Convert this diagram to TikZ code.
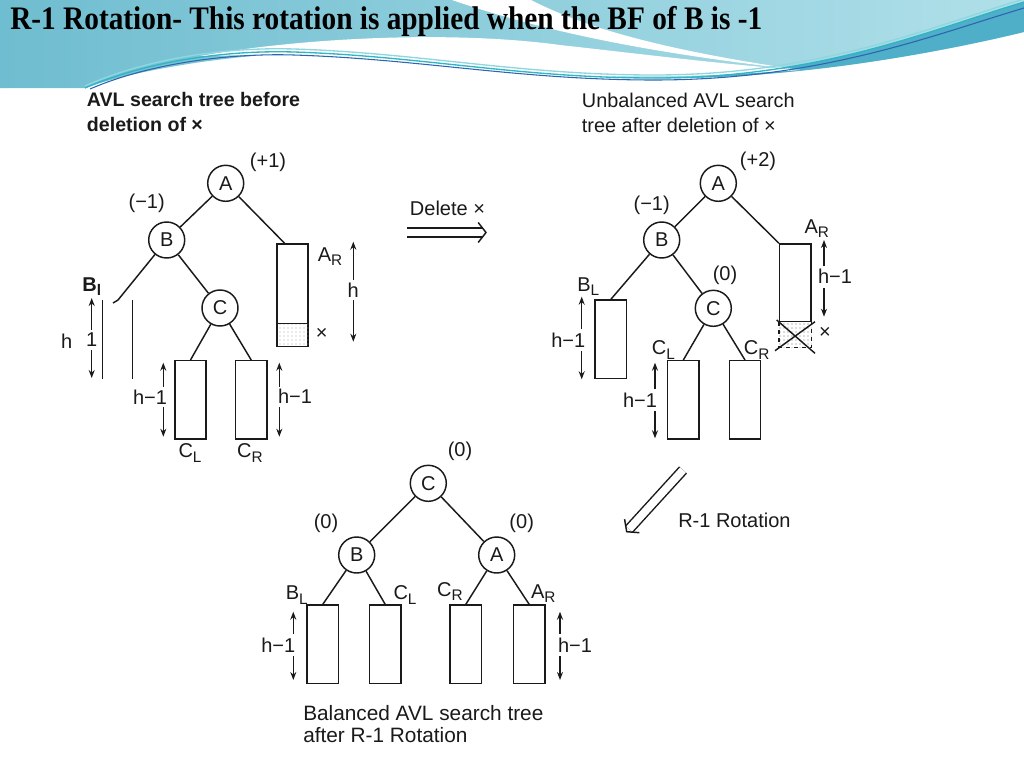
\documentclass[tikz,border=0pt]{standalone}
\usepackage{fontspec}
\setmainfont{Liberation Sans}
\newfontfamily\titlefont{Liberation Serif}
\usetikzlibrary{arrows.meta,calc,patterns}
\definecolor{hdA}{HTML}{6FBDD0}
\definecolor{hdB}{HTML}{B0E0E9}
\definecolor{hdD}{HTML}{4FAEC8}
\definecolor{wvA}{HTML}{2FB5C4}
\definecolor{wvB}{HTML}{2B66B0}
\definecolor{wvC}{HTML}{8FD6E0}
\definecolor{ink}{HTML}{1A1A1A}
\newcommand\mysub[1]{\raisebox{-0.4ex}{\fontsize{11.5}{11.5}\selectfont #1}}
\begin{document}
\begin{tikzpicture}[x=0.75pt,y=-0.75pt,
 txt/.style={font=\fontsize{15}{17}\selectfont, inner sep=0pt, text=ink},
 nd/.style={circle, draw=ink, line width=1.1pt, minimum size=27pt, inner sep=0pt, font=\fontsize{15}{17}\selectfont, text=ink},
 tbox/.style={draw=ink, line width=1.1pt, minimum width=23.5pt, minimum height=58.7pt, inner sep=0pt},
 edge/.style={draw=ink, line width=1.1pt},
 dim/.style={draw=ink, line width=1pt, -{Stealth[length=6pt,width=4.5pt]}},
 dblline/.style={draw=ink, line width=1.1pt, double, double distance=5.8pt, shorten >=2.6pt},
]
\useasboundingbox (0,0) rectangle (1024,768);
\fill[white] (0,0) rectangle (1024,768);
% ---------- header ----------
\shade[left color=hdA, right color=hdB]
 (0,0) -- (1024,0) -- (1024,32) .. controls (950,50) and (800,80) .. (654,78)
 .. controls (500,75) and (400,45) .. (294,53) .. controls (200,58) and (120,75) .. (85,88) -- (0,88) -- cycle;
\fill[hdD] (654,78) .. controls (820,78) and (930,30) .. (1024,2) -- (1024,32)
 .. controls (950,50) and (800,80) .. (654,78) -- cycle;
\fill[white] (200,56) .. controls (300,38) and (450,30) .. (560,45)
 .. controls (650,55) and (720,64) .. (800,70)
 .. controls (700,77) and (654,77) .. (600,76) .. controls (450,70) and (350,52) .. (200,56) -- cycle;
\fill[white] (452,0) -- (531,0) .. controls (580,25) and (650,48) .. (800,70)
 .. controls (640,52) and (540,30) .. (452,0) -- cycle;
\draw[wvC, line width=1pt] (85,86) .. controls (150,57) and (230,47) .. (294,49) .. controls (420,53) and (520,75) .. (654,75) .. controls (820,75) and (930,27) .. (1024,-1);
\draw[wvA, line width=1pt] (85,88) .. controls (150,60) and (230,50) .. (294,52) .. controls (420,56) and (520,78) .. (654,78) .. controls (820,78) and (930,30) .. (1024,2);
\draw[wvB, line width=0.8pt] (90,89) .. controls (150,63) and (230,53) .. (294,55) .. controls (420,59) and (520,80) .. (654,80) .. controls (820,80) and (930,36) .. (1024,8);
\node[anchor=base west, inner sep=0pt, text=black] (title) at (10,29.5)
 {\scalebox{1}[1.12]{\resizebox{564pt}{!}{\titlefont\bfseries R-1 Rotation- This rotation is applied when the BF of B is -1}}};

% ---------- captions ----------
\node[txt, anchor=west, align=left, font=\fontsize{14.7}{18.75}\selectfont\bfseries] (cap1) at (86.7,111.5)
 {AVL search tree before\\deletion of ×};
\node[txt, anchor=west, align=left, font=\fontsize{14.9}{18.75}\selectfont] (cap2) at (581.7,112.5)
 {Unbalanced AVL search\\tree after deletion of ×};
\node[txt, anchor=west, align=left, font=\fontsize{15.6}{16.5}\selectfont] (cap3) at (303,724)
 {Balanced AVL search tree\\after R-1 Rotation};

% ---------- tree 1 ----------
\node[nd] (A1) at (225.7,183.3) {A};
\node[nd] (B1) at (166.7,240) {B};
\node[nd] (C1) at (220,308) {C};
\node[tbox] (cl1) at (190.5,399.85) {};
\node[tbox] (cr1) at (251.2,399.85) {};
\node[tbox, minimum height=77pt] (ar1) at (292.5,295.35) {};
\fill[pattern=dots, pattern color=black!35] ($(ar1.south west)+(0.8,-23.5)$) rectangle ($(ar1.south east)+(-0.8,-0.8)$);
\draw[edge] ($(ar1.south west)+(0,-24)$) -- ($(ar1.south east)+(0,-24)$);
\coordinate (bl1) at (118,300);
\draw[edge] (A1) -- (B1);
\draw[edge] (A1) -- ($(ar1.north west)!.26!(ar1.north east)$);
\draw[edge] (B1) -- (bl1) -- (113,303);
\draw[edge] (B1) -- (C1);
\draw[edge] (C1) -- (cl1.north);
\draw[edge] (C1) -- (cr1.north);
\draw[edge] (102.7,300) -- (102.7,379);
\draw[edge] (132.7,300) -- (132.7,379);
\node[txt] (p1) at (268,162) {(+1)};
\node[txt] (m1) at (146.7,203) {(−1)};
\node[txt] (arl1) at (330,256.7) {A\mysub{R}};
\node[txt] (h1) at (353.3,290) {h};
\draw[dim] (353.3,280) -- (353.3,241.7);
\draw[dim] (353.3,300) -- (353.3,341.7);
\node[txt] (x1) at (321.7,334) {×};
\node[txt, font=\fontsize{15}{17}\selectfont\bfseries] (bll1) at (91.7,286.7) {B\mysub{l}};
\node[txt] (hh1) at (66.7,341.7) {h};
\node[txt] (one1) at (91.7,340) {1};
\draw[dim] (91.7,330) -- (91.7,298);
\draw[dim] (91.7,350) -- (91.7,378);
\node[txt] (hl1) at (150,397) {h−1};
\draw[dim] (163.3,386.7) -- (163.3,362.7);
\draw[dim] (163.3,407) -- (163.3,436.7);
\node[txt] (hr1) at (295,396.7) {h−1};
\draw[dim] (279.3,386.7) -- (279.3,362.7);
\draw[dim] (279.3,407) -- (279.3,436.7);
\node[txt] (cll1) at (190,453) {C\mysub{L}};
\node[txt] (crl1) at (250,453) {C\mysub{R}};

% ---------- delete arrow ----------
\node[txt] (del) at (447.5,208) {Delete ×};
\coordinate (d1) at (407,232.5);
\coordinate (d2) at (486,232.5);
\draw[dblline] (d1) -- (d2);
\draw[edge, line join=miter] ($(d2)!9.5pt!-52:(d1)$) -- (d2) -- ($(d2)!9.5pt!52:(d1)$);

% ---------- tree 2 ----------
\node[nd] (A2) at (718.3,183.3) {A};
\node[nd] (B2) at (661.7,240) {B};
\node[nd] (C2) at (713.3,308.3) {C};
\node[tbox] (bl2) at (610.85,339.15) {};
\node[tbox] (cl2) at (683.35,399.85) {};
\node[tbox] (cr2) at (745,399.85) {};
\node[tbox, minimum height=58.3pt] (ar2) at (795.35,282.85) {};
\fill[pattern=dots, pattern color=black!55] (ar2.south west) rectangle ($(ar2.south east)+(0,25)$);
\draw[ink, line width=0.9pt, dashed] (ar2.south west) -- ($(ar2.south west)+(0,25)$) -- ($(ar2.south east)+(0,25)$) -- (ar2.south east);
\draw[edge] (776.7,320) -- (815,353.3);
\draw[edge] (815,321.7) -- (775,350.7);
\draw[edge] (A2) -- (B2);
\draw[edge] (A2) -- (ar2.north west);
\draw[edge] (B2) -- (bl2.north);
\draw[edge] (B2) -- (C2);
\draw[edge] (C2) -- (cl2.north);
\draw[edge] (C2) -- (cr2.north);
\node[txt] (p2) at (758,161.7) {(+2)};
\node[txt] (m2) at (651.7,205) {(−1)};
\node[txt] (z2) at (725,275) {(0)};
\node[txt] (arl2) at (816.7,228.3) {A\mysub{R}};
\node[txt] (ha2) at (835,276.7) {h−1};
\draw[dim] (824,266) -- (824,240);
\draw[dim] (824,288) -- (824,316.7);
\node[txt] (x2) at (825,333) {×};
\node[txt] (bll2) at (588.3,286.7) {B\mysub{L}};
\node[txt] (hb2) at (568.3,340) {h−1};
\draw[dim] (581.7,329) -- (581.7,296.7);
\draw[dim] (581.7,351) -- (581.7,379.3);
\node[txt] (cll2) at (663.3,350) {C\mysub{L}};
\node[txt] (crl2) at (756.7,350) {C\mysub{R}};
\node[txt] (hc2) at (640,400) {h−1};
\draw[dim] (655,389) -- (655,362.7);
\draw[dim] (655,411) -- (655,438.3);

% ---------- rotation arrow ----------
\coordinate (r1) at (683,470);
\coordinate (r2) at (626.7,531.7);
\draw[dblline] (r1) -- (r2);
\draw[edge, line join=miter] ($(r2)!9.5pt!-52:(r1)$) -- (r2) -- ($(r2)!9.5pt!52:(r1)$);
\node[txt, anchor=west] (rot) at (678,520) {R-1 Rotation};

% ---------- tree 3 ----------
\node[nd] (C3) at (428.3,483.3) {C};
\node[nd] (B3) at (356.7,555) {B};
\node[nd] (A3) at (496.7,555) {A};
\node[tbox] (bl3) at (322.8,644.15) {};
\node[tbox] (cl3) at (385.15,644.15) {};
\node[tbox] (cr3) at (465.85,644.15) {};
\node[tbox] (ar3) at (529.15,644.15) {};
\draw[edge] (C3) -- (B3);
\draw[edge] (C3) -- (A3);
\draw[edge] (B3) -- (bl3.north);
\draw[edge] (B3) -- (cl3.north);
\draw[edge] (A3) -- (cr3.north);
\draw[edge] (A3) -- (ar3.north);
\node[txt] (z3a) at (460,451.7) {(0)};
\node[txt] (z3b) at (326,523.3) {(0)};
\node[txt] (z3c) at (521.7,523.3) {(0)};
\node[txt] (bll3) at (296.7,595) {B\mysub{L}};
\node[txt] (cll3) at (405,595) {C\mysub{L}};
\node[txt] (crl3) at (450,591.7) {C\mysub{R}};
\node[txt] (arl3) at (543.3,593.3) {A\mysub{R}};
\node[txt] (h3a) at (278.3,645) {h−1};
\draw[dim] (293.3,634) -- (293.3,611.7);
\draw[dim] (293.3,656) -- (293.3,680);
\node[txt] (h3b) at (575,645) {h−1};
\draw[dim] (560,634) -- (560,611.7);
\draw[dim] (560,656) -- (560,680);
\end{tikzpicture}
\end{document}
